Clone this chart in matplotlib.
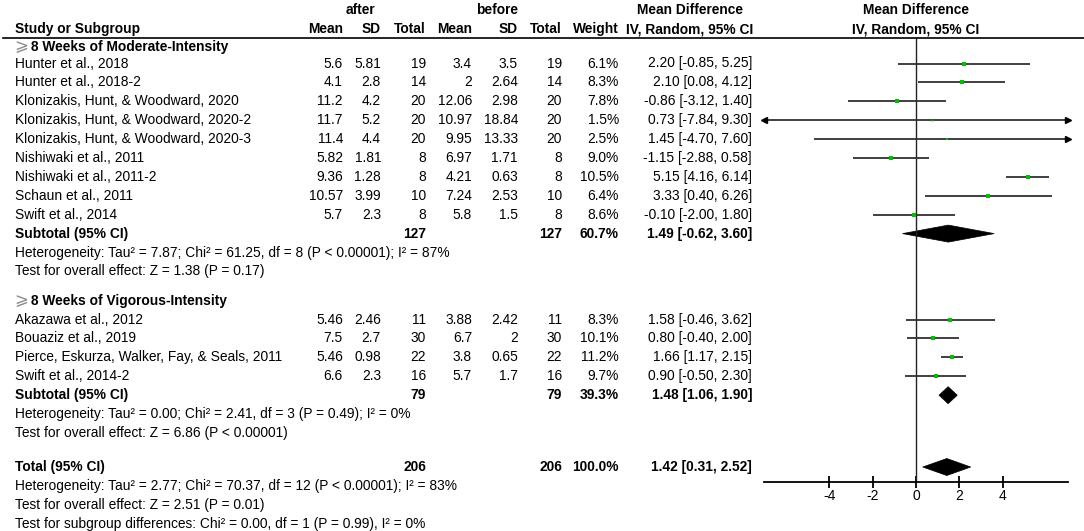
import matplotlib
matplotlib.use("Agg")
import matplotlib.pyplot as plt
from matplotlib.patches import Polygon

plt.rcParams['font.family'] = ['Liberation Sans', 'DejaVu Sans']
plt.rcParams['axes.unicode_minus'] = False

# ---------------- data ----------------
g1_title = "8 Weeks of Moderate-Intensity"
g1_names = ["Hunter et al., 2018", "Hunter et al., 2018-2",
            "Klonizakis, Hunt, & Woodward, 2020", "Klonizakis, Hunt, & Woodward, 2020-2",
            "Klonizakis, Hunt, & Woodward, 2020-3", "Nishiwaki et al., 2011",
            "Nishiwaki et al., 2011-2", "Schaun et al., 2011", "Swift et al., 2014"]
g1_after_mean = [5.6, 4.1, 11.2, 11.7, 11.4, 5.82, 9.36, 10.57, 5.7]
g1_after_sd = [5.81, 2.8, 4.2, 5.2, 4.4, 1.81, 1.28, 3.99, 2.3]
g1_after_n = [19, 14, 20, 20, 20, 8, 8, 10, 8]
g1_before_mean = [3.4, 2, 12.06, 10.97, 9.95, 6.97, 4.21, 7.24, 5.8]
g1_before_sd = [3.5, 2.64, 2.98, 18.84, 13.33, 1.71, 0.63, 2.53, 1.5]
g1_before_n = [19, 14, 20, 20, 20, 8, 8, 10, 8]
g1_weight = [6.1, 8.3, 7.8, 1.5, 2.5, 9.0, 10.5, 6.4, 8.6]
g1_md = [2.20, 2.10, -0.86, 0.73, 1.45, -1.15, 5.15, 3.33, -0.10]
g1_lo = [-0.85, 0.08, -3.12, -7.84, -4.70, -2.88, 4.16, 0.40, -2.00]
g1_hi = [5.25, 4.12, 1.40, 9.30, 7.60, 0.58, 6.14, 6.26, 1.80]
g1_sub = dict(n_after=127, n_before=127, weight=60.7, md=1.49, lo=-0.62, hi=3.60)
g1_het = "Heterogeneity: Tau\u00b2 = 7.87; Chi\u00b2 = 61.25, df = 8 (P < 0.00001); I\u00b2 = 87%"
g1_test = "Test for overall effect: Z = 1.38 (P = 0.17)"

g2_title = "8 Weeks of Vigorous-Intensity"
g2_names = ["Akazawa et al., 2012", "Bouaziz et al., 2019",
            "Pierce, Eskurza, Walker, Fay, & Seals, 2011", "Swift et al., 2014-2"]
g2_after_mean = [5.46, 7.5, 5.46, 6.6]
g2_after_sd = [2.46, 2.7, 0.98, 2.3]
g2_after_n = [11, 30, 22, 16]
g2_before_mean = [3.88, 6.7, 3.8, 5.7]
g2_before_sd = [2.42, 2, 0.65, 1.7]
g2_before_n = [11, 30, 22, 16]
g2_weight = [8.3, 10.1, 11.2, 9.7]
g2_md = [1.58, 0.80, 1.66, 0.90]
g2_lo = [-0.46, -0.40, 1.17, -0.50]
g2_hi = [3.62, 2.00, 2.15, 2.30]
g2_sub = dict(n_after=79, n_before=79, weight=39.3, md=1.48, lo=1.06, hi=1.90)
g2_het = "Heterogeneity: Tau\u00b2 = 0.00; Chi\u00b2 = 2.41, df = 3 (P = 0.49); I\u00b2 = 0%"
g2_test = "Test for overall effect: Z = 6.86 (P < 0.00001)"

total = dict(n_after=206, n_before=206, weight=100.0, md=1.42, lo=0.31, hi=2.52)
total_het = "Heterogeneity: Tau\u00b2 = 2.77; Chi\u00b2 = 70.37, df = 12 (P < 0.00001); I\u00b2 = 83%"
total_test = "Test for overall effect: Z = 2.51 (P = 0.01)"
subgroup_test = "Test for subgroup differences: Chi\u00b2 = 0.00, df = 1 (P = 0.99), I\u00b2 = 0%"
group_symbol = "\u2a7e"

x_ticks = [-4, -2, 0, 2, 4]
x_limit = 7

# ---------------- layout ----------------
W, H = 1084, 531
fig = plt.figure(figsize=(W / 100, H / 100), dpi=100)
fig.patch.set_facecolor("white")
axt = fig.add_axes([0, 0, 1, 1])
axt.set_xlim(0, W)
axt.set_ylim(H, 0)
axt.axis("off")

FS = 9.9
x_name = 15
col_r = dict(am=343, asd=381, an=426, bm=472, bsd=518, bn=562, w=619, ci=752)
x_after_c, x_before_c, x_md_c, x_forest_c = 360, 497, 690, 916

y_line = 37.5
y_axis = 482
forest_l, forest_r = 764, 1068
dy = 18.9

def txt(x, y, s, ha="left", bold=False, size=None, color="black"):
    axt.text(x, y, s, ha=ha, va="center", fontsize=size or FS,
             fontweight="bold" if bold else "normal", color=color)

# headers
txt(x_after_c, 10, "after", ha="center", bold=True)
txt(x_before_c, 10, "before", ha="center", bold=True)
txt(x_md_c, 10, "Mean Difference", ha="center", bold=True)
txt(x_forest_c, 10, "Mean Difference", ha="center", bold=True)
txt(x_name, 29, "Study or Subgroup", bold=True)
for key, lab in [("am", "Mean"), ("asd", "SD"), ("an", "Total"), ("bm", "Mean"),
                 ("bsd", "SD"), ("bn", "Total"), ("w", "Weight")]:
    txt(col_r[key], 29, lab, ha="right", bold=True)
txt(x_md_c, 29, "IV, Random, 95% CI", ha="center", bold=True)
txt(x_forest_c, 29, "IV, Random, 95% CI", ha="center", bold=True)
axt.plot([3, W], [y_line, y_line], color="black", lw=1.2)

# forest axes
axf = fig.add_axes([forest_l / W, (H - y_axis) / H, (forest_r - forest_l) / W, (y_axis - y_line) / H])
axf.set_xlim(-x_limit, x_limit)
axf.set_ylim(y_axis, y_line)
axf.patch.set_alpha(0)
for s in ("top", "left", "right"):
    axf.spines[s].set_visible(False)
axf.spines["bottom"].set_linewidth(1.3)
axf.set_yticks([])
axf.set_xticks(x_ticks)
axf.set_xticklabels([f"{t:d}" for t in x_ticks])
axf.tick_params(axis="x", direction="inout", length=8, width=1.3, labelsize=10, pad=1)
axf.axvline(0, color="#222222", lw=1.0)

def study_row(y, name, am, asd, an, bm, bsd, bn, w, md, lo, hi):
    txt(x_name, y, name)
    txt(col_r["am"], y, f"{am:g}", ha="right")
    txt(col_r["asd"], y, f"{asd:g}", ha="right")
    txt(col_r["an"], y, f"{an:d}", ha="right")
    txt(col_r["bm"], y, f"{bm:g}", ha="right")
    txt(col_r["bsd"], y, f"{bsd:g}", ha="right")
    txt(col_r["bn"], y, f"{bn:d}", ha="right")
    txt(col_r["w"], y, f"{w:.1f}%", ha="right")
    txt(col_r["ci"], y, f"{md:.2f} [{lo:.2f}, {hi:.2f}]", ha="right")
    l = max(lo, -x_limit)
    r = min(hi, x_limit)
    axf.plot([l, r], [y, y], color="#303030", lw=1.3, solid_capstyle="butt", clip_on=False)
    if lo < -x_limit:
        axf.plot([-x_limit], [y], marker="<", color="black", ms=5, clip_on=False)
    if hi > x_limit:
        axf.plot([x_limit], [y], marker=">", color="black", ms=5, clip_on=False)
    side_px = 1.45 * w ** 0.5
    axf.plot([md], [y], marker="s", color="#00c000", ms=side_px * 0.72, mew=0, clip_on=False)

def summary_row(y, label, d):
    txt(x_name, y, label, bold=True)
    txt(col_r["an"], y, f"{d['n_after']:d}", ha="right", bold=True)
    txt(col_r["bn"], y, f"{d['n_before']:d}", ha="right", bold=True)
    txt(col_r["w"], y, f"{d['weight']:.1f}%", ha="right", bold=True)
    txt(col_r["ci"], y, f"{d['md']:.2f} [{d['lo']:.2f}, {d['hi']:.2f}]", ha="right", bold=True)
    hh = 8.5
    poly = Polygon([[d['lo'], y], [d['md'], y - hh], [d['hi'], y], [d['md'], y + hh]],
                   closed=True, facecolor="black", edgecolor="black", lw=0.5, clip_on=False)
    axf.add_patch(poly)

def group_title(y, title):
    txt(x_name - 1, y, group_symbol, color="#8a8a8a", size=12)
    txt(x_name + 16, y, title, bold=True)

# group 1
y = 46.5
group_title(y, g1_title)
y = 63.5
for i in range(len(g1_names)):
    study_row(y, g1_names[i], g1_after_mean[i], g1_after_sd[i], g1_after_n[i],
              g1_before_mean[i], g1_before_sd[i], g1_before_n[i], g1_weight[i],
              g1_md[i], g1_lo[i], g1_hi[i])
    y += dy
summary_row(y, "Subtotal (95% CI)", g1_sub); y += dy
txt(x_name, y, g1_het); y += dy
txt(x_name, y, g1_test); y += 1.55 * dy

# group 2
group_title(y, g2_title); y += dy
for i in range(len(g2_names)):
    study_row(y, g2_names[i], g2_after_mean[i], g2_after_sd[i], g2_after_n[i],
              g2_before_mean[i], g2_before_sd[i], g2_before_n[i], g2_weight[i],
              g2_md[i], g2_lo[i], g2_hi[i])
    y += dy
summary_row(y, "Subtotal (95% CI)", g2_sub); y += dy
txt(x_name, y, g2_het); y += dy
txt(x_name, y, g2_test); y += 1.8 * dy

summary_row(y, "Total (95% CI)", total); y += dy
txt(x_name, y, total_het); y += dy
txt(x_name, y, total_test); y += dy
txt(x_name, y, subgroup_test)

fig.savefig("out.png", dpi=100, facecolor="white")
